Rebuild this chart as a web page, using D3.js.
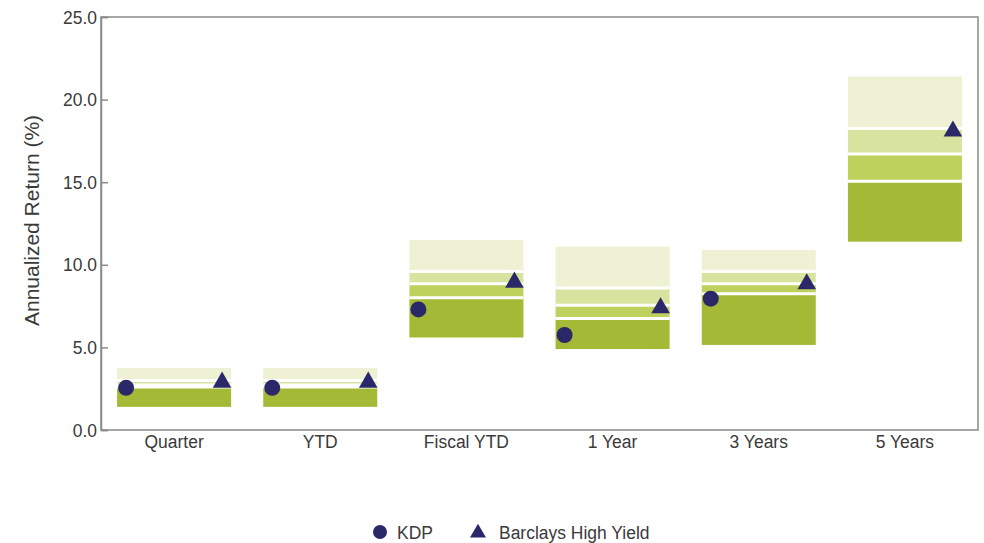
<!DOCTYPE html>
<html>
<head>
<meta charset="utf-8">
<script src="https://cdn.jsdelivr.net/npm/d3@7"></script>
<style>
  html, body { margin: 0; padding: 0; background: #fff; }
  svg { display: block; font-family: "Liberation Sans", Arial, sans-serif; }
</style>
</head>
<body>
<svg id="chart" width="984" height="543"></svg>
<script>
const categories = ["Quarter", "YTD", "Fiscal YTD", "1 Year", "3 Years", "5 Years"];
const p5     = [1.4, 1.4, 5.6, 4.9, 5.15, 11.4];
const p25    = [2.6, 2.6, 8.0, 6.75, 8.25, 15.05];
const median = [2.72, 2.72, 8.85, 7.55, 8.85, 16.7];
const p75    = [3.0, 3.0, 9.6, 8.6, 9.6, 18.25];
const p95    = [3.75, 3.75, 11.5, 11.1, 10.9, 21.4];
const kdp      = [2.55, 2.55, 7.3, 5.75, 7.95, null];
const barclays = [2.95, 2.95, 9.0, 7.45, 8.9, 18.15];
const yTicks = [0, 5, 10, 15, 20, 25];

const svg = d3.select("#chart");
const m = { left: 101, right: 978, top: 17, bottom: 430 };
const textColor = "#3a3a3a";
const sx = 0.92;

const x = d3.scaleBand().domain(categories).range([m.left, m.right])
  .paddingInner(0.22).paddingOuter(0.11);
const y = d3.scaleLinear().domain([0, 25]).range([m.bottom, m.top]);

const bandColors = ["#a4b935", "#bed15c", "#d8e3a0", "#eef1d4"]; // 5-25, 25-50, 50-75, 75-95
const rows = categories.map((c, i) => ({
  c, b: [p5[i], p25[i], median[i], p75[i], p95[i]], k: kdp[i], h: barclays[i]
}));

const g = svg.append("g");
rows.forEach(r => {
  for (let j = 0; j < 4; j++) {
    g.append("rect")
      .attr("x", x(r.c)).attr("width", x.bandwidth())
      .attr("y", y(r.b[j + 1])).attr("height", y(r.b[j]) - y(r.b[j + 1]))
      .attr("fill", bandColors[j]);
  }
  [1, 2, 3].forEach(j => {
    g.append("line")
      .attr("x1", x(r.c)).attr("x2", x(r.c) + x.bandwidth())
      .attr("y1", y(r.b[j])).attr("y2", y(r.b[j]))
      .attr("stroke", "#fff").attr("stroke-width", 3);
  });
});

const markColor = "#2a2868";
const circ = d3.symbol().type(d3.symbolCircle).size(Math.PI * 8 * 8);
const tri = d3.symbol().type(d3.symbolTriangle).size(150);
rows.forEach(r => {
  if (r.k != null) {
    g.append("path").attr("d", circ)
      .attr("transform", `translate(${x(r.c) + 9},${y(r.k)})`)
      .attr("fill", markColor);
  }
  if (r.h != null) {
    g.append("path").attr("d", tri)
      .attr("transform", `translate(${x(r.c) + x.bandwidth() - 9},${y(r.h) + 1})`)
      .attr("fill", markColor);
  }
});

// frame
svg.append("rect")
  .attr("x", m.left).attr("y", m.top)
  .attr("width", m.right - m.left).attr("height", m.bottom - m.top)
  .attr("fill", "none").attr("stroke", "#8a8a8a").attr("stroke-width", 1.5);

// y axis (ticks point inward)
const yAxis = svg.append("g").attr("transform", `translate(${m.left},0)`)
  .call(d3.axisLeft(y).tickValues(yTicks).tickFormat(d3.format(".1f")).tickSize(-7).tickPadding(4));
yAxis.select(".domain").attr("stroke", "#8a8a8a").attr("stroke-width", 1.5);
yAxis.selectAll(".tick line").attr("stroke", "#8a8a8a").attr("stroke-width", 1.5);
yAxis.selectAll(".tick text").attr("fill", textColor).style("font-size", "19px")
  .style("font-family", "Liberation Sans, Arial, sans-serif")
  .attr("transform", `scale(${sx},1)`).attr("x", -4 / sx);

// x axis labels
const xAxis = svg.append("g").attr("transform", `translate(0,${m.bottom})`)
  .call(d3.axisBottom(x).tickSize(0).tickPadding(5));
xAxis.select(".domain").remove();
xAxis.selectAll(".tick text").attr("fill", textColor).style("font-size", "19px")
  .style("font-family", "Liberation Sans, Arial, sans-serif")
  .attr("transform", `scale(${sx},1)`);

// y title
svg.append("text")
  .attr("transform", `translate(39,${(m.top + m.bottom) / 2 - 3}) rotate(-90) scale(1,${sx})`)
  .attr("text-anchor", "middle").attr("fill", textColor).style("font-size", "21px")
  .text("Annualized Return (%)");

// legend
const lg = svg.append("g").attr("transform", "translate(0,532)");
lg.append("path").attr("d", d3.symbol().type(d3.symbolCircle).size(Math.PI * 7 * 7))
  .attr("transform", "translate(380,0)").attr("fill", markColor);
lg.append("text").attr("transform", `translate(397,7) scale(${sx},1)`)
  .attr("fill", textColor).style("font-size", "19px").text("KDP");
lg.append("path").attr("d", d3.symbol().type(d3.symbolTriangle).size(110))
  .attr("transform", "translate(478,1)").attr("fill", markColor);
lg.append("text").attr("transform", `translate(499,7) scale(${sx},1)`)
  .attr("fill", textColor).style("font-size", "19px").text("Barclays High Yield");
</script>
</body>
</html>
